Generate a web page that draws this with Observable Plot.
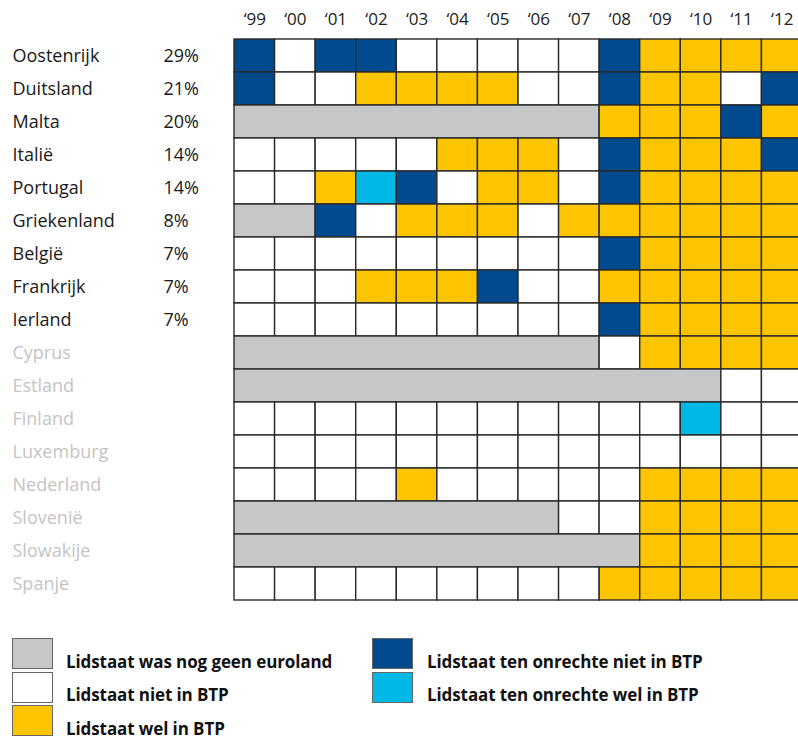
<!DOCTYPE html>
<html>
<head>
<meta charset="utf-8">
<script src="https://cdn.jsdelivr.net/npm/d3@7"></script>
<script src="https://cdn.jsdelivr.net/npm/@observablehq/plot@0.6"></script>
<style>
  html, body { margin: 0; padding: 0; background: #fff; overflow: hidden; }
  #chart { position: relative; width: 798px; height: 620px; overflow: hidden; }
  #legend { position: relative; width: 798px; height: 120px; font-family: "Open Sans", sans-serif; }
  .sw { position: absolute; width: 41px; height: 31px; box-sizing: border-box; border: 1.5px solid #666; }
  .lb { position: absolute; font-weight: 700; font-size: 17px; color: #111; line-height: 20px; letter-spacing: -0.1px; white-space: nowrap; }
</style>
</head>
<body>
<div id="chart"></div>
<div id="legend"></div>
<script>
const years = [1999, 2000, 2001, 2002, 2003, 2004, 2005, 2006, 2007, 2008, 2009, 2010, 2011, 2012];
const countries = ["Oostenrijk", "Duitsland", "Malta", "Italië", "Portugal", "Griekenland", "België", "Frankrijk", "Ierland",
  "Cyprus", "Estland", "Finland", "Luxemburg", "Nederland", "Slovenië", "Slowakije", "Spanje"];
const shares = ["29%", "21%", "20%", "14%", "14%", "8%", "7%", "7%", "7%", "", "", "", "", "", "", "", ""];
// G = nog geen euroland, W = niet in BTP, Y = wel in BTP, D = ten onrechte niet in BTP, L = ten onrechte wel in BTP
const status = [
  "DWDDWWWWWDYYYY",
  "DWWYYYYWWDYYWD",
  "GGGGGGGGGYYYDY",
  "WWWWWYYYWDYYYD",
  "WWYLDWYYWDYYYY",
  "GGDWYYYWYYYYYY",
  "WWWWWWWWWDYYYY",
  "WWWYYYDWWYYYYY",
  "WWWWWWWWWDYYYY",
  "GGGGGGGGGWYYYY",
  "GGGGGGGGGGGGWW",
  "WWWWWWWWWWWLWW",
  "WWWWWWWWWWWWWW",
  "WWWWYWWWWWYYYY",
  "GGGGGGGGWWYYYY",
  "GGGGGGGGGGYYYY",
  "WWWWWWWWWYYYYY"
];
const codes = ["G", "W", "Y", "D", "L"];
const codeColors = ["#c6c7c9", "#ffffff", "#fdc400", "#014a8e", "#00b8e8"];
const legendLabels = ["Lidstaat was nog geen euroland", "Lidstaat niet in BTP", "Lidstaat wel in BTP",
  "Lidstaat ten onrechte niet in BTP", "Lidstaat ten onrechte wel in BTP"];

// build cells; consecutive "not yet euro" years merge into one span
const cells = [];
countries.forEach((c, i) => {
  const s = status[i];
  let j = 0;
  while (j < s.length) {
    let k = j + 1;
    if (s[j] === "G") while (k < s.length && s[k] === "G") k++;
    cells.push({country: c, x1: years[j], x2: years[k - 1] + 1, code: s[j]});
    j = k;
  }
});
const rows = countries.map((c, i) => ({country: c, share: shares[i], main: shares[i] !== ""}));

const font = "'Open Sans', sans-serif";
const plot = Plot.plot({
  width: 798,
  height: 620,
  marginLeft: 234,
  marginRight: -4,
  marginTop: 35,
  marginBottom: 16,
  style: {fontFamily: font, background: "#fff"},
  x: {domain: [years[0], years[years.length - 1] + 1], axis: null},
  y: {domain: countries, padding: 0, axis: null},
  color: {domain: codes, range: codeColors},
  marks: [
    Plot.barX(cells, {x1: "x1", x2: "x2", y: "country", fill: "code", stroke: "#2a2a2a", strokeWidth: 1.4}),
    Plot.axisX(years.map(y => y + 0.5), {
      anchor: "top", tickSize: 0, tickPadding: 11, fontSize: 17, fill: "#222",
      tickFormat: d => "\u2018" + String(Math.floor(d)).slice(2)
    }),
    Plot.text(rows, {y: "country", text: "country", frameAnchor: "left", dx: -222, textAnchor: "start",
      fontSize: 18, fill: d => d.main ? "#1a1a1a" : "#c4c4c4"}),
    Plot.text(rows, {y: "country", text: "share", frameAnchor: "left", dx: -71, textAnchor: "start",
      fontSize: 18, fill: "#1a1a1a"})
  ]
});
document.getElementById("chart").appendChild(plot);

// legend below the chart
const legendPos = [
  {sx: 12, sy: 18, lx: 66, ly: 32},
  {sx: 12, sy: 52, lx: 66, ly: 65},
  {sx: 12, sy: 85, lx: 66, ly: 99},
  {sx: 372, sy: 18, lx: 427, ly: 32},
  {sx: 372, sy: 52, lx: 427, ly: 65}
];
const lg = document.getElementById("legend");
codes.forEach((c, i) => {
  const p = legendPos[i];
  const sw = document.createElement("div");
  sw.className = "sw";
  sw.style.left = p.sx + "px"; sw.style.top = p.sy + "px"; sw.style.background = codeColors[i];
  lg.appendChild(sw);
  const lb = document.createElement("div");
  lb.className = "lb";
  lb.style.left = p.lx + "px"; lb.style.top = p.ly + "px";
  lb.textContent = legendLabels[i];
  lg.appendChild(lb);
});
</script>
</body>
</html>
